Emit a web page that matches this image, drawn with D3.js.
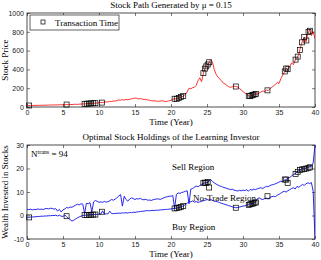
<!DOCTYPE html>
<html>
<head>
    <script src="https://d3js.org/d3.v7.min.js"></script>
    <style>
        body { margin: 0; padding: 0; background: #fff; overflow: hidden; }
        text { font-family: "Liberation Serif", "Times New Roman", serif; fill: #000; }
        .tick text { font-family: "Liberation Sans", Arial, sans-serif; font-size: 7px; fill: #222; }
    </style>
</head>
<body>
<script>
    // time grid of the simulation, quarter-year steps
    var step = 0.25;

    var price = [
        15, 16, 15, 17, 16, 18, 17, 18, 19, 18, 20, 19, 21, 20, 22, 21, 23, 22, 24, 23, 25,
        24, 26, 25, 27, 26, 28, 29, 28, 30, 31, 33, 32, 35, 37, 36, 39, 41, 40, 43, 45,
        48, 46, 52, 55, 53, 60, 58, 64, 62, 70, 75, 72,
        78, 74, 80, 77, 83, 86, 90, 96,
        92, 86, 90, 84, 80, 82, 76, 72,
        68, 64, 66, 62, 60, 64, 66, 62, 58, 62, 66, 72,
        82, 88, 86, 95, 100, 108, 118, 135,
        160, 200, 195, 205, 210, 230, 280, 310,
        270, 360, 420, 440, 470, 500, 480, 400,
        350, 320, 300, 280, 255, 245, 230, 215,
        210, 215, 222, 218, 212, 200, 180, 165,
        150, 135, 120, 115, 125, 130, 140, 135,
        150, 160, 170, 165, 180, 175, 195, 210,
        225, 240, 260, 250, 300, 340, 370, 410,
        400, 430, 470, 450, 500, 520, 560, 640,
        700, 745, 690, 780, 824, 760, 800, 729
    ];

    var sellBound = [
        2.6, 2.5, 2.7, 2.4, 2.6, 2.5, 2.8, 2.6, 2.7, 2.5, 2.9, 3.0, 2.8, 3.1, 3.0, 2.7, 2.9, 1.9, 2.6, 1.5, 2.4,
        2.8, 3.4, 3.2, 3.6, 3.5, 4.0, 4.4, 4.8, 4.5, 5.0, 4.8, 0.8, 5.2, 5.0, 5.5, 1.5, 5.8, 6.4, 6.0, 5.6,
        5.8, 5.6, 6.0, 5.7, 5.9, 6.3, 6.8, 6.5, 7.0, 7.6, 8.3, 8.9,
        4.0, 8.2, 6.8, 6.1, 7.0, 7.5, 7.2, 6.8,
        7.2, 7.0, 7.3, 6.8, 6.7, 6.9, 6.5, 6.6,
        6.4, 6.7, 6.9, 7.0, 7.1, 6.8, 7.2, 7.5, 7.8, 8.0, 8.2, 8.2,
        8.5, 3.0, 9.0, 9.6, 9.4, 9.8, 10.0, 10.3,
        10.5, 5.0, 11.2, 11.5, 12.0, 12.5, 12.2, 12.8,
        13.2, 13.6, 14.0, 13.9, 14.6, 15.3, 14.5, 13.9,
        13.4, 13.0, 12.6, 12.4, 12.0, 11.8, 11.5, 11.3,
        11.0, 11.2, 10.8, 10.6, 10.4, 10.7, 10.5, 10.8,
        10.6, 11.0, 10.3, 11.1, 10.8, 11.2, 11.0, 11.4,
        11.6, 11.8, 11.5, 12.0, 12.4, 12.2, 12.8, 13.0,
        13.2, 13.5, 13.8, 14.2, 14.6, 14.4, 15.0, 15.3,
        15.8, 16.2, 16.8, 17.4, 17.8, 18.5, 19.2, 19.6,
        20.0, 19.8, 20.2, 20.5, 20.7, 21.0, 22.4, 30
    ];

    var buyBound = [
        -1.0, -0.8, -0.7, -0.6, -0.6, -0.5, -0.4, -0.4, -0.3, -0.3, -0.2, -0.2, -0.1, -0.1, 0.0, 0.0, 0.1, -0.2, 0.1, -0.3, -0.4,
        0.2, -0.5, -1.2, -1.8, -2.4, -2.0, -1.5, -1.0, -0.6, -0.3, 0.0, 0.1, 0.2, 0.2, 0.3, 0.3, 0.4, 0.4, 0.5, 0.5,
        0.6, 2.0, 0.6, 0.7, 0.7, 1.8, 0.8, 0.8, 0.9, 0.9, 1.0, 1.0,
        1.1, 1.1, 1.2, 1.0, 1.3, 1.2, 1.4, 1.3,
        1.5, 1.6, 1.7, 1.8, 1.9, 2.0, 2.1, 2.0,
        2.1, 2.2, 2.1, 2.3, 2.2, 2.4, 2.4, 2.5, 2.6, 2.6, 2.7, 2.8,
        2.9, 3.0, 3.1, 3.3, 3.5, 3.8, 4.2, 4.7,
        5.2, 6.0, 5.8, 6.2, 5.7, 5.9, 5.6, 5.8,
        6.0, 6.3, 6.5, 6.8, 6.6, 6.9, 6.4, 6.1,
        6.0, 5.8, 5.5, 5.2, 5.0, 4.7, 4.5, 4.2,
        4.0, 3.7, 3.5, 3.3, 3.4, 3.6, 3.8, 4.0,
        4.1, 4.4, 4.7, 5.0, 5.1, 5.3, 5.8, 7.2,
        7.5, 7.0, 6.8, 7.2, 7.4, 7.0, 7.8, 8.0,
        8.2, 8.0, 8.6, 9.0, 9.5, 10.0, 10.3, 10.0,
        10.6, 11.0, 11.5, 11.8, 11.3, 12.4, 12.0, 12.6,
        13.2, 12.8, 13.5, 13.9, 13.6, 14.0, 10.3, -10
    ];

    // transaction times and the holding after each trade
    var transTime = [0.3, 5.5, 8.0, 8.3, 8.6, 8.9, 9.2, 9.5, 10.4,
        20.5, 20.8, 21.1, 21.4, 21.7, 24.5, 24.7, 24.9, 25.1, 25.3, 29.0,
        30.8, 31.0, 31.2, 31.4, 31.6, 31.8, 33.4, 35.8, 36.0, 36.2,
        37.3, 37.6, 37.9, 38.2, 38.5, 38.8, 39.1, 39.3];
    var transHold = [-0.8, -0.3, 0.2, 0.2, 0.3, 0.3, 0.4, 0.4, 1.6,
        3.0, 3.2, 3.4, 3.6, 4.0, 13.9, 14.0, 13.9, 14.2, 11.9, 3.3,
        4.5, 4.8, 5.0, 5.1, 5.3, 5.6, 8.2, 15.3, 15.3, 13.9,
        17.6, 18.6, 19.3, 19.6, 19.8, 20.0, 20.3, 20.5];

    var nTrans = 94;
    var xTicks = [0, 5, 10, 15, 20, 25, 30, 35, 40];
    var priceTicks = [0, 200, 400, 600, 800, 1000];
    var holdTicks = [-10, 0, 10, 20, 30];

    var width = 321, height = 260;
    var svg = d3.select("body").append("svg")
        .attr("width", width)
        .attr("height", height);

    var times = price.map((d, i) => i * step);
    var priceAt = d3.scaleLinear().domain(times).range(price);

    var x = d3.scaleLinear().domain([0, 40]).range([27, 315]);
    var plain = d => String(d);

    function panel(y, ticks, top, bottom, title, ylabel) {
        var g = svg.append("g");
        g.append("g")
            .attr("transform", "translate(0," + bottom + ")")
            .call(d3.axisBottom(x).tickValues(xTicks).tickSize(-3).tickPadding(3).tickFormat(plain));
        g.append("g")
            .attr("transform", "translate(0," + top + ")")
            .call(d3.axisTop(x).tickValues(xTicks).tickSize(-3).tickFormat(""));
        g.append("g")
            .attr("transform", "translate(27,0)")
            .call(d3.axisLeft(y).tickValues(ticks).tickSize(-3).tickPadding(3).tickFormat(plain));
        g.append("g")
            .attr("transform", "translate(315,0)")
            .call(d3.axisRight(y).tickValues(ticks).tickSize(-3).tickFormat(""));
        g.selectAll(".domain").remove();
        g.selectAll(".tick line").attr("stroke", "#222").attr("stroke-width", 0.6);
        g.append("rect")
            .attr("x", 27).attr("y", top)
            .attr("width", 288).attr("height", bottom - top)
            .attr("fill", "none").attr("stroke", "#222").attr("stroke-width", 0.8);
        svg.append("text")
            .attr("x", 171).attr("y", top - 5)
            .attr("text-anchor", "middle").attr("font-size", 9)
            .text(title);
        svg.append("text")
            .attr("x", 171).attr("y", bottom + 18)
            .attr("text-anchor", "middle").attr("font-size", 9)
            .text("Time (Year)");
        svg.append("text")
            .attr("transform", "translate(8," + (top + bottom) / 2 + ") rotate(-90)")
            .attr("text-anchor", "middle").attr("font-size", 9)
            .text(ylabel);
    }

    // ---- top: stock path ----
    var yP = d3.scaleLinear().domain([0, 1000]).range([107, 13]);
    panel(yP, priceTicks, 13, 107, "Stock Path Generated by \u03bc = 0.15", "Stock Price");

    svg.append("defs").append("clipPath").attr("id", "clipTop")
        .append("rect").attr("x", 27).attr("y", 13).attr("width", 288).attr("height", 94);
    svg.append("defs").append("clipPath").attr("id", "clipBot")
        .append("rect").attr("x", 27).attr("y", 145).attr("width", 288).attr("height", 94);

    svg.append("path")
        .datum(price)
        .attr("clip-path", "url(#clipTop)")
        .attr("fill", "none")
        .attr("stroke", "#f00")
        .attr("stroke-width", 0.8)
        .attr("d", d3.line().x((d, i) => x(times[i])).y(d => yP(d)));

    svg.append("g").selectAll("rect")
        .data(transTime)
        .join("rect")
        .attr("x", d => x(d) - 2.5)
        .attr("y", d => yP(priceAt(d)) - 2.5)
        .attr("width", 5).attr("height", 5)
        .attr("fill", "none").attr("stroke", "#000").attr("stroke-width", 0.7);

    // legend
    svg.append("rect")
        .attr("x", 30).attr("y", 15).attr("width", 89).attr("height", 15)
        .attr("fill", "#fff").attr("stroke", "#222").attr("stroke-width", 0.7);
    svg.append("rect")
        .attr("x", 41).attr("y", 20).attr("width", 4).attr("height", 4)
        .attr("fill", "none").attr("stroke", "#000").attr("stroke-width", 0.7);
    svg.append("text")
        .attr("x", 55).attr("y", 25.5).attr("font-size", 9)
        .text("Transaction Time");

    // ---- bottom: holdings ----
    var yH = d3.scaleLinear().domain([-10, 30]).range([239, 145]);
    panel(yH, holdTicks, 145, 239, "Optimal Stock Holdings of the Learning Investor", "Wealth Invested in Stocks");

    [sellBound, buyBound].forEach(s => {
        svg.append("path")
            .datum(s)
            .attr("clip-path", "url(#clipBot)")
            .attr("fill", "none")
            .attr("stroke", "#1010ee")
            .attr("stroke-width", 0.9)
            .attr("d", d3.line().x((d, i) => x(times[i])).y(d => yH(d)));
    });

    svg.append("g").selectAll("rect")
        .data(transTime)
        .join("rect")
        .attr("x", d => x(d) - 2.5)
        .attr("y", (d, i) => yH(transHold[i]) - 2.5)
        .attr("width", 5).attr("height", 5)
        .attr("fill", "none").attr("stroke", "#000").attr("stroke-width", 0.7);

    var nt = svg.append("text").attr("x", 31).attr("y", 157).attr("font-size", 9);
    nt.append("tspan").text("N");
    nt.append("tspan").attr("font-size", 6).attr("dy", -3.5).text("trans");
    nt.append("tspan").attr("dy", 3.5).text(" = " + nTrans);

    svg.append("text").attr("x", 172).attr("y", 170).attr("font-size", 9).text("Sell Region");
    svg.append("text").attr("x", 193).attr("y", 201).attr("font-size", 9).text("No-Trade Region");
    svg.append("text").attr("x", 172).attr("y", 230).attr("font-size", 9).text("Buy Region");
</script>
</body>
</html>
